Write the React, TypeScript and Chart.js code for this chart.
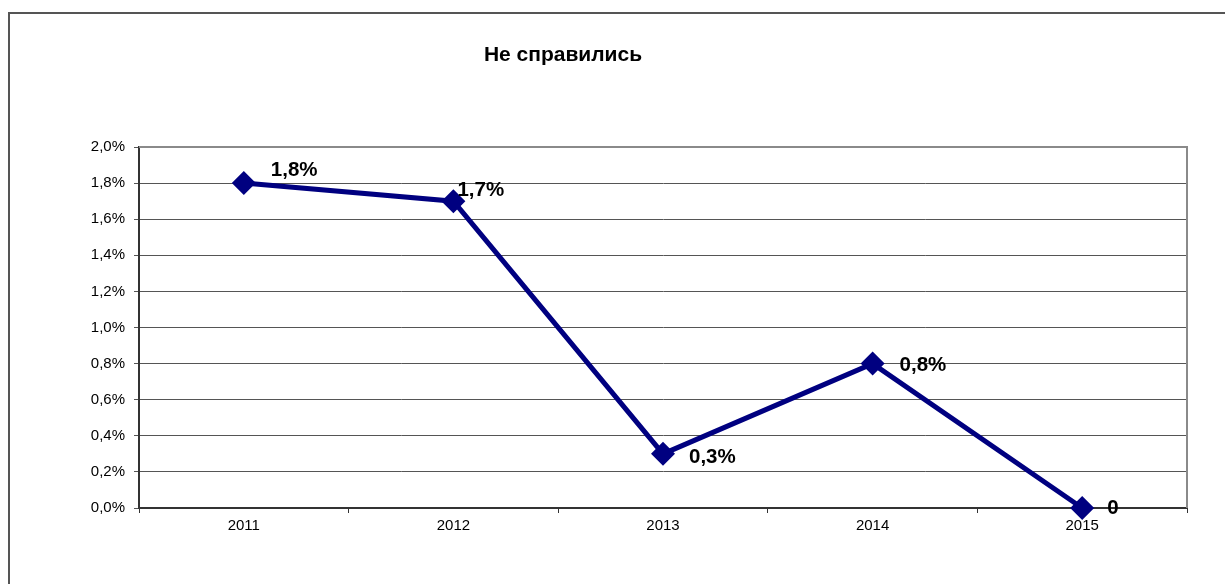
import React, { useEffect, useRef } from "react";
import { Chart, registerables } from "chart.js";

Chart.register(...registerables);

const TITLE = "Не справились";
const categories = ["2011", "2012", "2013", "2014", "2015"];
const values = [0.018, 0.017, 0.003, 0.008, 0.0];
const valueLabels = ["1,8%", "1,7%", "0,3%", "0,8%", "0"];
const yMin = 0;
const yMax = 0.02;
const yStep = 0.002;

const FONT = "'Liberation Sans', Arial, sans-serif";
// label offsets relative to the point (dx to left edge, dy to middle)
const LABEL_OFFSETS = [
  [27, -13],
  [4, -11],
  [26, 3],
  [27, 2],
  [25, 0],
];

const fmtPct = (v: number) => (v * 100).toFixed(1).replace(".", ",") + "%";

export default function App() {
  const ref = useRef<HTMLCanvasElement>(null);
  useEffect(() => {
    if (!ref.current) return;
    const framePlugin = {
      id: "frame",
      beforeDatasetsDraw(chart: any) {
        const { ctx, chartArea } = chart;
        ctx.save();
        ctx.strokeStyle = "#8a8a8a";
        ctx.lineWidth = 2;
        ctx.beginPath();
        ctx.moveTo(chartArea.left, chartArea.top);
        ctx.lineTo(chartArea.right, chartArea.top);
        ctx.lineTo(chartArea.right, chartArea.bottom);
        ctx.stroke();
        ctx.restore();
      },
      afterDraw(chart: any) {
        const { ctx } = chart;
        ctx.save();
        ctx.fillStyle = "#000";
        ctx.font = `bold 21px ${FONT}`;
        ctx.textAlign = "center";
        ctx.textBaseline = "middle";
        ctx.fillText(TITLE, 563, 55);
        const meta = chart.getDatasetMeta(0);
        ctx.textAlign = "left";
        ctx.font = `bold 20.5px ${FONT}`;
        meta.data.forEach((pt: any, i: number) => {
          const [dx, dy] = LABEL_OFFSETS[i];
          ctx.fillText(valueLabels[i], pt.x + dx, pt.y + dy);
        });
        ctx.restore();
      },
    };
    const chart = new Chart(ref.current, {
      type: "line",
      data: {
        labels: categories,
        datasets: [
          {
            data: values,
            borderColor: "#000080",
            backgroundColor: "#000080",
            borderWidth: 5,
            pointStyle: "rectRot",
            pointRadius: 12,
            pointHoverRadius: 12,
            pointBorderWidth: 0,
            tension: 0,
            clip: false,
          },
        ],
      },
      options: {
        responsive: false,
        animation: false,
        events: [],
        layout: { padding: { left: 0, top: 147, right: 38, bottom: 0 } },
        plugins: {
          legend: { display: false },
          title: { display: false },
          tooltip: { enabled: false },
        },
        scales: {
          x: {
            offset: true,
            afterFit: (s: any) => {
              s.height = 76;
            },
            grid: {
              offset: true,
              drawOnChartArea: false,
              drawTicks: true,
              tickLength: 5,
              color: "#333",
              lineWidth: 1,
            },
            border: { display: true, color: "#333", width: 2 },
            ticks: {
              color: "#000",
              font: { family: FONT, size: 15 },
              padding: 4,
              maxRotation: 0,
            },
          },
          y: {
            min: yMin,
            max: yMax,
            afterFit: (s: any) => {
              s.width = 139;
            },
            afterBuildTicks: (s: any) => {
              const t = [];
              for (let v = yMin; v <= yMax + 1e-9; v += yStep) t.push({ value: +v.toFixed(4) });
              s.ticks = t;
            },
            grid: {
              color: "#555",
              lineWidth: 1,
              tickLength: 5,
              drawTicks: true,
            },
            border: { display: true, color: "#333", width: 2 },
            ticks: {
              color: "#000",
              font: { family: FONT, size: 15 },
              padding: 9,
              callback: (v: any) => fmtPct(Number(v)),
            },
          },
        },
      },
      plugins: [framePlugin],
    });
    return () => chart.destroy();
  }, []);
  return (
    <div
      style={{
        position: "fixed",
        left: 0,
        top: 0,
        width: 1225,
        height: 584,
        overflow: "hidden",
        background: "#fff",
      }}
    >
      <div
        style={{
          position: "absolute",
          left: 8,
          top: 12,
          width: 1400,
          height: 800,
          border: "2px solid #555",
        }}
      />
      <canvas
        ref={ref}
        width={1225}
        height={584}
        style={{ position: "absolute", left: 0, top: 0 }}
      />
    </div>
  );
}
